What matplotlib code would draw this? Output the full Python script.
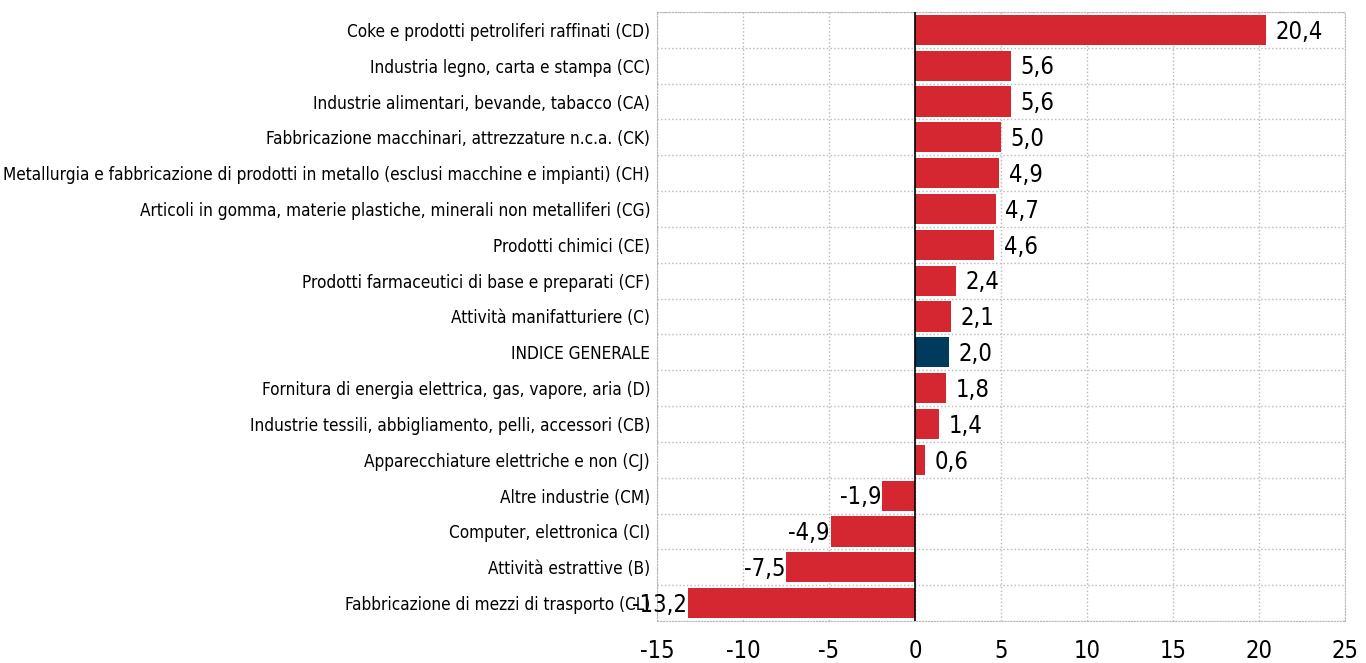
import matplotlib
matplotlib.use('Agg')
import matplotlib.pyplot as plt

plt.rcParams['font.family'] = ['DejaVu Sans']
plt.rcParams['font.stretch'] = 'condensed'

# data (top to bottom)
categorie = [
    'Coke e prodotti petroliferi raffinati (CD)',
    'Industria legno, carta e stampa (CC)',
    'Industrie alimentari, bevande, tabacco (CA)',
    'Fabbricazione macchinari, attrezzature n.c.a. (CK)',
    'Metallurgia e fabbricazione di prodotti in metallo (esclusi macchine e impianti) (CH)',
    'Articoli in gomma, materie plastiche, minerali non metalliferi (CG)',
    'Prodotti chimici (CE)',
    'Prodotti farmaceutici di base e preparati (CF)',
    'Attività manifatturiere (C)',
    'INDICE GENERALE',
    'Fornitura di energia elettrica, gas, vapore, aria (D)',
    'Industrie tessili, abbigliamento, pelli, accessori (CB)',
    'Apparecchiature elettriche e non (CJ)',
    'Altre industrie (CM)',
    'Computer, elettronica (CI)',
    'Attività estrattive (B)',
    'Fabbricazione di mezzi di trasporto (CL)',
]
valori = [20.4, 5.6, 5.6, 5.0, 4.9, 4.7, 4.6, 2.4, 2.1, 2.0, 1.8, 1.4, 0.6,
          -1.9, -4.9, -7.5, -13.2]

rosso = '#d52731'
blu = '#003a5c'
colori = [blu if c == 'INDICE GENERALE' else rosso for c in categorie]

fig = plt.figure(figsize=(13.66, 6.63), dpi=100)
ax = fig.add_axes([0.481, 0.0633, 0.5036, 0.9187])

y = list(range(len(categorie)))
ax.barh(y, valori, height=0.84, color=colori, zorder=3)

for yi, v in zip(y, valori):
    testo = ('%.1f' % v).replace('.', ',')
    if v >= 0:
        ax.text(v + 0.55, yi + 0.05, testo, va='center', ha='left', fontsize=17)
    else:
        ax.text(v - 0.05, yi + 0.05, testo, va='center', ha='right', fontsize=17)

ax.set_xlim(-15, 25)
ax.set_ylim(len(categorie) - 0.5, -0.5)
ax.set_xticks(range(-15, 26, 5))
ax.set_xticklabels([str(t) for t in range(-15, 26, 5)], fontsize=17)
ax.set_yticks(y)
ax.set_yticklabels(categorie, fontsize=12.3)
ax.tick_params(axis='y', length=0, pad=5)
ax.tick_params(axis='x', length=0, pad=13)

# griglia
ax.set_yticks([i + 0.5 for i in range(-1, len(categorie))], minor=True)
ax.grid(axis='x', which='major', color='#b8b8b8', linestyle=':', linewidth=1, zorder=0)
ax.grid(axis='y', which='minor', color='#b8b8b8', linestyle=':', linewidth=1, zorder=0)
ax.tick_params(which='minor', length=0)
for s in ax.spines.values():
    s.set_color('#b8b8b8')
    s.set_linestyle(':')
ax.axvline(0, color='black', linewidth=1.2, zorder=4)

plt.savefig('out.png', dpi=100)
